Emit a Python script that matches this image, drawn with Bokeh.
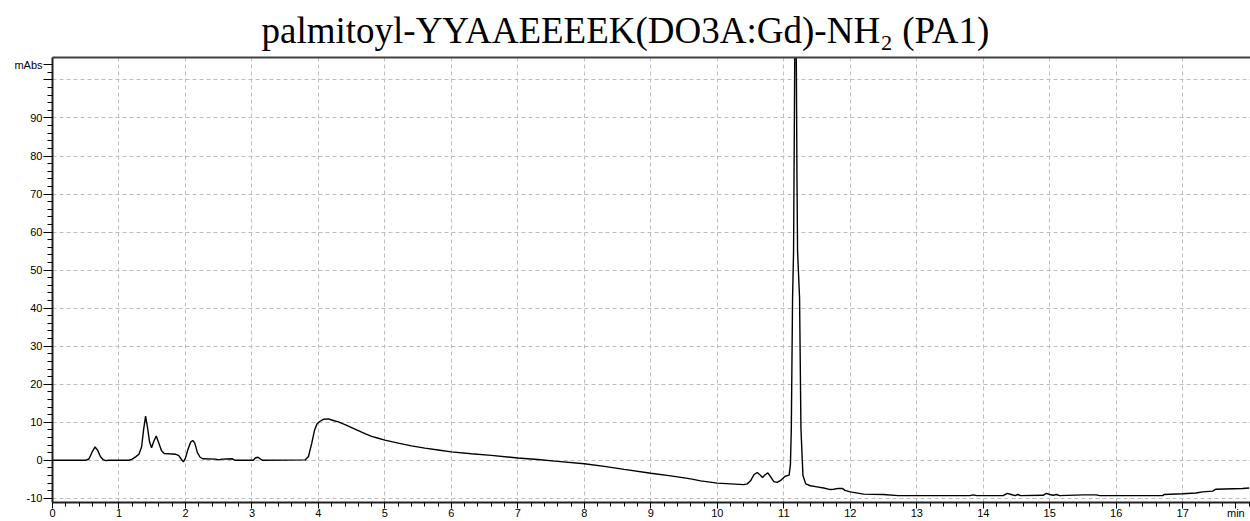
from bokeh.plotting import figure
from bokeh.models import Range1d, FixedTicker, LinearAxis
from bokeh.embed import file_html
from bokeh.resources import INLINE

# retention time (min) and absorbance (mAbs)
time_min = [0.00, 0.50, 0.55, 0.60, 0.64, 0.68, 0.72, 0.76, 0.80, 0.85,
            1.15, 1.20, 1.25, 1.30, 1.34, 1.37, 1.40, 1.43, 1.46, 1.49,
            1.52, 1.56, 1.60, 1.64, 1.68, 1.75, 1.85, 1.90, 1.94, 1.97,
            2.00, 2.04, 2.08, 2.11, 2.14, 2.18, 2.22, 2.26, 2.45, 2.50,
            2.55, 2.70, 2.75, 3.02, 3.05, 3.09, 3.13, 3.16, 3.80, 3.85,
            3.90, 3.94, 3.98, 4.02, 4.08, 4.15, 4.20, 4.30, 4.40, 4.50,
            4.60, 4.70, 4.80, 4.90, 5.00, 5.20, 5.40, 5.60, 5.80, 6.00,
            6.30, 6.60, 7.00, 7.30, 7.60, 8.00, 8.30, 8.60, 9.00, 9.30,
            9.60, 9.75, 10.00, 10.20, 10.40, 10.45, 10.50, 10.55, 10.60, 10.64,
            10.68, 10.72, 10.76, 10.80, 10.85, 10.90, 10.96, 11.02, 11.08, 11.10,
            11.113, 11.132, 11.147, 11.162, 11.172, 11.182, 11.198, 11.207, 11.237, 11.258,
            11.288, 11.33, 11.40, 11.50, 11.60, 11.70, 11.75, 11.82, 11.88, 11.92,
            12.00, 12.20, 12.50, 12.72, 13.80, 13.85, 13.90, 14.30, 14.36, 14.42,
            14.48, 14.52, 14.56, 14.90, 14.95, 15.00, 15.05, 15.10, 15.15, 15.50,
            15.70, 15.75, 16.70, 16.72, 17.00, 17.20, 17.30, 17.45, 17.50, 17.90,
            18.00]
absorbance = [0.0, 0.0, 0.4, 2.3, 3.5, 2.6, 1.0, 0.2, -0.1, 0.0,
              0.0, 0.3, 0.9, 1.6, 3.5, 8.0, 11.6, 8.5, 4.8, 3.3,
              4.8, 6.4, 4.5, 2.5, 1.8, 1.7, 1.6, 1.2, 0.2, -0.4,
              0.6, 3.0, 4.8, 5.2, 4.5, 2.0, 0.8, 0.4, 0.3, 0.1,
              0.3, 0.4, 0.0, 0.0, 0.6, 0.8, 0.3, 0.0, 0.1, 1.0,
              4.5, 7.8, 9.6, 10.2, 10.8, 10.9, 10.6, 10.1, 9.4, 8.6,
              7.8, 7.0, 6.3, 5.8, 5.3, 4.5, 3.8, 3.2, 2.7, 2.2,
              1.7, 1.3, 0.6, 0.2, -0.3, -0.9, -1.6, -2.4, -3.4, -4.1,
              -4.9, -5.4, -6.0, -6.2, -6.4, -6.2, -5.4, -3.8, -3.2, -3.8,
              -4.5, -3.8, -3.3, -4.3, -5.6, -5.8, -5.2, -4.2, -3.9, -1.0,
              8.3, 42.8, 55.0, 98.0, 125.0, 125.0, 74.6, 55.0, 42.8, 8.3,
              -4.0, -6.2, -6.7, -7.0, -7.3, -7.7, -7.6, -7.4, -7.4, -7.9,
              -8.3, -8.9, -9.0, -9.3, -9.3, -9.1, -9.3, -9.3, -8.7, -9.0,
              -9.3, -9.0, -9.3, -9.2, -8.7, -9.0, -9.2, -9.0, -9.3, -9.1,
              -9.1, -9.3, -9.3, -9.0, -8.8, -8.6, -8.3, -8.1, -7.6, -7.4,
              -7.3]

x_ticks = list(range(0, 18)) + [17.8]
x_tick_labels = {t: str(t) for t in range(0, 18)}
x_tick_labels[17.8] = "min"
y_ticks = list(range(-10, 101, 10)) + [104]
y_tick_labels = {t: str(t) for t in range(-10, 91, 10)}
y_tick_labels[100] = ""
y_tick_labels[104] = "mAbs"
y_grid = list(range(-10, 101, 10))
title_text = "palmitoyl-YYAAEEEEK(DO3A:Gd)-NH\u2082 (PA1)"

W, H = 1250, 521
p = figure(width=W, height=H, output_backend="svg", toolbar_location=None,
           x_range=Range1d(0, 18.02), y_range=Range1d(-11.1, 105.9),
           min_border_left=52, min_border_right=0, min_border_top=57,
           min_border_bottom=17, background_fill_color="white",
           border_fill_color="white", title=title_text)
p.outline_line_color = None
p.title.align = "left"
p.title.offset = 209
p.title.standoff = 13
p.title.text_font = "Liberation Serif"
p.title.text_font_size = "37px"
p.title.text_font_style = "normal"
p.title.text_color = "black"

p.line(time_min, absorbance, line_color="black", line_width=1.4)

lbl_font = "Liberation Sans"
for ax in (p.xaxis[0], p.yaxis[0]):
    ax.axis_line_color = "#202020"
    ax.axis_line_width = 2
    ax.major_tick_line_color = "black"
    ax.minor_tick_line_color = "black"
    ax.major_tick_in = 0
    ax.minor_tick_in = 0
    ax.major_label_text_font = lbl_font
    ax.major_label_text_font_size = "11px"
    ax.major_label_text_color = "black"

p.xaxis.ticker = FixedTicker(ticks=x_ticks, minor_ticks=[i / 5 for i in range(0, 91)])
p.xaxis.major_label_overrides = x_tick_labels
p.xaxis.major_tick_out = 6
p.xaxis.minor_tick_out = 4
p.xaxis.major_label_standoff = -2

p.yaxis.ticker = FixedTicker(ticks=y_ticks, minor_ticks=list(range(-10, 105, 2)))
p.yaxis.major_label_overrides = y_tick_labels
p.yaxis.major_tick_out = 9
p.yaxis.minor_tick_out = 5
p.yaxis.major_label_standoff = 1

p.xgrid.ticker = FixedTicker(ticks=list(range(1, 18)))
p.ygrid.ticker = FixedTicker(ticks=y_grid)
for g in (p.xgrid[0], p.ygrid[0]):
    g.grid_line_color = "#bdbdbd"
    g.grid_line_dash = "4 3"
    g.grid_line_width = 1

top = LinearAxis(ticker=FixedTicker(ticks=[]), axis_line_color="#404040",
                 axis_line_width=2, major_tick_line_color=None,
                 minor_tick_line_color=None, major_label_text_color=None)
p.add_layout(top, "above")

open("out.html", "w").write(file_html(p, INLINE))
